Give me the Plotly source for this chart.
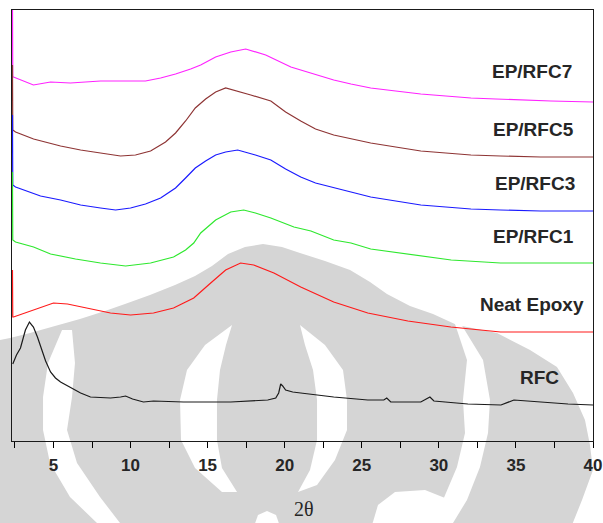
import plotly.graph_objects as go

# ---------------- data ----------------
x_ep7 = [2.34, 2.36, 2.41, 3.70, 4.81, 6.10, 8.05, 10.0, 10.97, 11.95, 12.92, 13.9, 14.55, 15.52, 16.5, 17.47,
         18.1, 18.77, 20.4, 21.04, 22.0, 23.18, 24.3, 25.58, 27.2, 28.83, 30.45, 32.08, 33.7, 35.32, 37.27, 40.0]
y_ep7 = [440, 364, 364, 356, 359, 358, 360, 360, 360, 363, 367, 372, 376, 384, 389, 392,
         389, 386, 374, 371, 367, 361, 357, 353, 350, 347, 345, 343, 342, 341, 340, 339]

x_ep5 = [2.34, 2.36, 2.54, 3.71, 5.46, 6.76, 8.05, 9.35, 10.32, 11.3, 12.27, 12.92, 13.57, 14.2, 14.87, 15.52,
         16.17, 16.8, 17.8, 19.1, 20.06, 21.04, 22.0, 23.18, 24.3, 25.58, 27.2, 28.83, 30.45, 32.08, 34.0, 36.6, 40.0]
y_ep5 = [376, 311, 309, 302, 295, 291, 288, 285, 286, 290, 299, 308, 320, 333, 342, 349,
         353, 350, 346, 340, 329, 320, 312, 306, 302, 298, 294, 290, 288, 286, 285, 284, 284]

x_ep3 = [2.34, 2.36, 2.54, 4.16, 5.46, 6.76, 8.05, 9.03, 10.0, 10.97, 11.95, 12.92, 13.57, 14.2, 14.87, 15.52,
         16.17, 16.95, 18.1, 19.1, 20.06, 21.04, 22.0, 23.18, 24.3, 25.58, 27.2, 28.83, 30.45, 32.08, 34.0, 36.6, 40.0]
y_ep3 = [326, 256, 254, 245, 241, 236, 233, 231, 233, 237, 243, 253, 263, 273, 280, 286,
         289, 291, 286, 281, 272, 264, 258, 253, 249, 244, 240, 236, 234, 232, 231, 230, 230]

x_ep1 = [2.34, 2.36, 2.54, 3.71, 4.81, 6.43, 8.05, 9.68, 11.3, 12.79, 13.57, 14.1, 14.55, 15.52, 16.5, 17.34,
         18.1, 19.1, 20.6, 21.7, 23.18, 24.3, 25.58, 27.5, 29.16, 30.8, 34.0, 36.6, 40.0]
y_ep1 = [269, 201, 199, 194, 187, 182, 178, 175, 178, 184, 191, 198, 208, 221, 229, 231,
         228, 223, 214, 210, 201, 198, 192, 188, 184, 181, 178, 178, 178]

x_neat = [2.34, 2.36, 2.41, 3.71, 5.0, 5.91, 7.21, 8.7, 10.0, 11.49, 12.79, 14.1, 15.2, 16.17, 17.14, 17.99,
          19.3, 21.04, 23.18, 25.39, 27.99, 30.78, 34.0, 36.6, 40.0]
y_neat = [171, 124, 124, 131, 138, 137, 133, 128, 126, 128, 133, 143, 158, 171, 178, 176,
          168, 154, 139, 128, 120, 114, 109, 109, 109]

x_rfc = [2.36, 2.60, 2.86, 3.18, 3.44, 3.70, 3.96, 4.16, 4.49, 4.81, 5.13, 5.46, 6.1, 6.76, 7.4, 8.7, 9.35,
         9.68, 10.13, 10.84, 11.49, 13.44, 16.5, 18.9, 19.42, 19.61, 19.74, 19.87, 20.06, 20.52, 21.04, 23.18,
         25.39, 26.43, 26.62, 26.88, 28.83, 29.22, 29.42, 29.68, 31.88, 34.03, 34.48, 34.87, 36.62, 38.38, 40.0]
y_rfc = [77, 86, 93, 111, 119, 114, 104, 94, 80, 69, 63, 59, 54, 48, 44, 43, 44,
         45, 42, 39, 40, 39, 39, 41, 43, 48, 57, 55, 51, 49, 48, 44,
         41, 41, 43, 39, 39, 42, 44, 40, 37, 36, 39, 41, 39, 37, 36]

series_names = ["EP/RFC7", "EP/RFC5", "EP/RFC3", "EP/RFC1", "Neat Epoxy", "RFC"]
tick_values = [5, 10, 15, 20, 25, 30, 35, 40]
x_title = "2θ"

# ---------------- layout geometry ----------------
W, H = 603, 523
ML, MR, MT, MB = 12, 10, 10, 82
PW, PH = W - ML - MR, H - MT - MB


def px(xp):
    return (xp - ML) / PW


def py(yp):
    return (H - MB - yp) / PH


def path(points):
    s = "M " + " L ".join(f"{px(a):.4f},{py(b):.4f}" for a, b in points) + " Z"
    return s


fig = go.Figure()

colors = ["#ff22ff", "#8e3434", "#1a1aff", "#2ee82e", "#ff1a1a", "#1a1a1a"]
xs = [x_ep7, x_ep5, x_ep3, x_ep1, x_neat, x_rfc]
ys = [y_ep7, y_ep5, y_ep3, y_ep1, y_neat, y_rfc]
for name, xv, yv, c in zip(series_names, xs, ys, colors):
    fig.add_trace(go.Scatter(x=xv, y=yv, mode="lines", name=name,
                             line=dict(color=c, width=1.2), showlegend=False))

# ---------------- watermark (background logo) ----------------
gray = "#d5d5d5"
gray_outline = [(-10, 342), (10, 338), (30, 333), (55, 326), (80, 319), (105, 311), (125, 304), (150, 295),
                (175, 285), (195, 276), (212, 266), (228, 254), (245, 247), (263, 244), (282, 247), (300, 253),
                (325, 261), (350, 270), (370, 282), (387, 294), (410, 306), (433, 314), (457, 325), (467, 327),
                (497, 333), (530, 350), (557, 367), (573, 393), (585, 420), (590, 445), (593, 470), (582, 500),
                (570, 530), (-10, 530)]
white_shapes = [
    # outer left arc
    [(62, 330), (48, 363), (43, 397), (43, 430), (50, 463), (70, 497), (97, 523), (105, 532),
     (128, 532), (120, 523), (100, 497), (77, 463), (67, 430), (72, 397), (75, 363), (72, 330)],
    # outer right arc
    [(461, 324), (483, 360), (490, 400), (488, 433), (480, 467), (467, 500), (453, 523), (448, 532),
     (425, 532), (430, 523), (443, 500), (457, 467), (465, 433), (463, 400), (467, 360), (455, 324)],
    # bottom right patch
    [(370, 532), (378, 505), (395, 492), (425, 490), (445, 498), (432, 532)],
    # central left crescent
    [(232, 325), (205, 345), (187, 370), (180, 400), (181, 440), (195, 468), (222, 492), (237, 492),
     (222, 468), (217, 440), (217, 400), (220, 370), (226, 345)],
    # central right crescent
    [(300, 325), (325, 345), (343, 370), (347, 400), (347, 430), (335, 460), (317, 485), (298, 492),
     (310, 470), (317, 440), (317, 400), (313, 370), (305, 345)],
    # bottom centre blob
    [(252, 532), (258, 515), (267, 511), (276, 515), (282, 532)],
]

shapes = [dict(type="path", xref="paper", yref="paper", path=path(gray_outline),
               fillcolor=gray, line=dict(width=0), layer="below")]
for pts in white_shapes:
    shapes.append(dict(type="path", xref="paper", yref="paper", path=path(pts),
                       fillcolor="white", line=dict(width=0), layer="below"))

# ---------------- labels ----------------
label_pos = [(574, 72), (576, 129), (577, 183), (576, 236), (586, 304), (561, 377)]
annotations = []
for name, (lx, ly) in zip(series_names, label_pos):
    annotations.append(dict(text=name, xref="paper", yref="paper", x=px(lx), y=py(ly),
                            xanchor="right", yanchor="middle", showarrow=False,
                            font=dict(family="Arial, Liberation Sans", size=19, color="#262626",
                                      weight="bold")))
annotations.append(dict(text=x_title, xref="paper", yref="paper", x=px(304), y=py(509),
                        xanchor="center", yanchor="middle", showarrow=False,
                        font=dict(family="Times New Roman, Liberation Serif", size=20, color="#262626")))

fig.update_layout(
    width=W, height=H,
    margin=dict(l=ML, r=MR, t=MT, b=MB, pad=0, autoexpand=False),
    paper_bgcolor="white", plot_bgcolor="rgba(0,0,0,0)",
    shapes=shapes, annotations=annotations,
    xaxis=dict(range=[2.31, 40], tickvals=tick_values, ticks="outside", ticklen=6, tickwidth=1,
               tickcolor="black", showgrid=False, zeroline=False, showline=True, linecolor="#1a1a1a",
               linewidth=1, mirror=True, layer="below traces", automargin=False, ticklabelstandoff=3,
               minor=dict(ticks="outside", dtick=2.5, tick0=0, ticklen=6, tickcolor="black", showgrid=False),
               tickfont=dict(family="Arial, Liberation Sans", size=17, color="#262626", weight="bold")),
    yaxis=dict(range=[0, 431], showticklabels=False, ticks="", showgrid=False, zeroline=False,
               showline=True, linecolor="#1a1a1a", linewidth=1, mirror=True, layer="below traces",
               automargin=False),
)

fig.write_html("out.html", config={"displayModeBar": False},
               post_script="document.body.style.margin='0';document.body.style.overflow='hidden';")
